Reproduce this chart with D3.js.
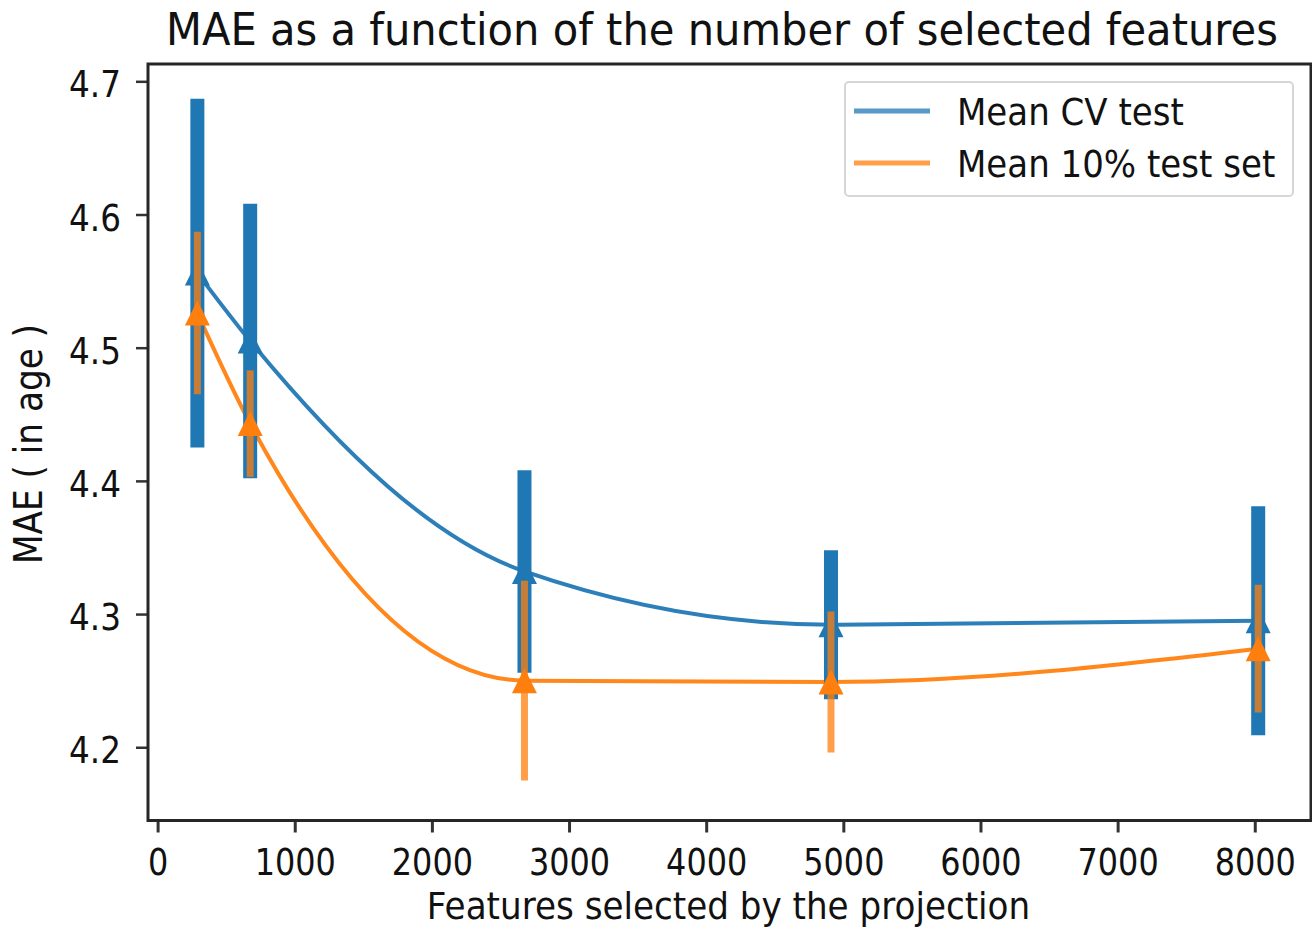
<!DOCTYPE html>
<html>
<head>
<meta charset="UTF-8">
<title>MAE vs selected features</title>
<script src="https://d3js.org/d3.v7.min.js"></script>
<style>
  body { margin: 0; background: #fff; }
  text { font-family: "DejaVu Sans", sans-serif; fill: #111; }
</style>
</head>
<body>
<div id="chart"></div>
<script>
// data
const features = [290, 675, 2675, 4910, 8025]
const cvMean = [4.556, 4.505, 4.332, 4.292, 4.295]
const cvStd = [0.131, 0.103, 0.076, 0.056, 0.086]
const testMean = [4.526, 4.443, 4.250, 4.249, 4.274]
const testStd = [0.061, 0.040, 0.075, 0.053, 0.048]
const xTicks = [0, 1000, 2000, 3000, 4000, 5000, 6000, 7000, 8000]
const yTicks = [4.2, 4.3, 4.4, 4.5, 4.6, 4.7]
const seriesNames = ["Mean CV test", "Mean 10% test set"]
const colors = ["#1f77b4", "#ff7f0e"]

const width = 1312
const height = 929
const frame = {left: 148, right: 1311, top: 64, bottom: 820.5}

const svg = d3.select("#chart").append("svg").attr("width", width).attr("height", height)

// scales, domain = axes limits
const xScale = d3.scaleLinear().domain([-70, 8410]).range([frame.left, frame.right])
const yScale = d3.scaleLinear().domain([4.145, 4.713]).range([frame.bottom, frame.top])

const series = [
  {name: seriesNames[0], mean: cvMean, std: cvStd, color: colors[0], barWidth: 14, barOpacity: 1},
  {name: seriesNames[1], mean: testMean, std: testStd, color: colors[1], barWidth: 7, barOpacity: 0.75}
]

// smooth curves first (they sit under the error bars)
const line = d3.line().curve(d3.curveMonotoneX).x(d => xScale(d[0])).y(d => yScale(d[1]))
series.forEach(s => {
  svg.append("path")
    .attr("d", line(features.map((f, i) => [f, s.mean[i]])))
    .attr("fill", "none").attr("stroke", s.color).attr("stroke-width", 4).attr("stroke-opacity", 0.94)
})

// triangle marker like matplotlib '^'
const triangleUp = {
  draw(context, size) {
    const r = Math.sqrt(size) / 2
    context.moveTo(0, -r)
    context.lineTo(r, r)
    context.lineTo(-r, r)
    context.closePath()
  }
}

// error bars + markers
series.forEach(s => {
  const g = svg.append("g")
  g.selectAll("line").data(features).join("line")
    .attr("x1", d => xScale(d)).attr("x2", d => xScale(d))
    .attr("y1", (d, i) => yScale(s.mean[i] - s.std[i]))
    .attr("y2", (d, i) => yScale(s.mean[i] + s.std[i]))
    .attr("stroke", s.color).attr("stroke-width", s.barWidth).attr("stroke-opacity", s.barOpacity)
  g.selectAll("path").data(features).join("path")
    .attr("d", d3.symbol().type(triangleUp).size(625))
    .attr("transform", (d, i) => `translate(${xScale(d)},${yScale(s.mean[i])})`)
    .attr("fill", s.color)
})

// axes
const gx = svg.append("g").attr("transform", `translate(0,${frame.bottom})`)
  .call(d3.axisBottom(xScale).tickValues(xTicks).tickSize(12).tickPadding(15.5).tickFormat(d3.format("d")))
gx.select(".domain").remove()
gx.selectAll("line").attr("stroke", "#333").attr("stroke-width", 3)
gx.selectAll("text").attr("font-size", 38)
  .style("transform-box", "fill-box").style("transform-origin", "50% 50%").style("transform", "scaleX(0.84)")

const gy = svg.append("g").attr("transform", `translate(${frame.left},0)`)
  .call(d3.axisLeft(yScale).tickValues(yTicks).tickSize(12).tickPadding(15).tickFormat(d3.format(".1f")))
gy.select(".domain").remove()
gy.selectAll("line").attr("stroke", "#333").attr("stroke-width", 2.5)
gy.selectAll("text").attr("font-size", 38).attr("dy", "0.41em")
  .style("transform-box", "fill-box").style("transform-origin", "100% 50%").style("transform", "scaleX(0.86)")

// frame
svg.append("rect")
  .attr("x", frame.left).attr("y", frame.top)
  .attr("width", frame.right - frame.left).attr("height", frame.bottom - frame.top)
  .attr("fill", "none").attr("stroke", "#262626").attr("stroke-width", 3)

// title and axis labels
svg.append("text").attr("text-anchor", "middle").attr("font-size", 44)
  .attr("transform", "translate(722,45) scale(0.947,1)")
  .text("MAE as a function of the number of selected features")
svg.append("text").attr("text-anchor", "middle").attr("font-size", 38)
  .attr("transform", "translate(728.5,919) scale(0.9,1)")
  .text("Features selected by the projection")
svg.append("text").attr("text-anchor", "middle").attr("font-size", 38.5)
  .attr("transform", "translate(42,444) rotate(-90) scale(0.89,1)")
  .text("MAE ( in age )")

// legend
const legend = svg.append("g")
legend.append("rect").attr("x", 845).attr("y", 82).attr("width", 448).attr("height", 114).attr("rx", 4)
  .attr("fill", "#fff").attr("fill-opacity", 0.8).attr("stroke", "#d6d6d6").attr("stroke-width", 2)
series.forEach((s, i) => {
  const row = legend.append("g").attr("transform", `translate(0,${i * 52})`)
  row.append("line").attr("x1", 854).attr("x2", 930).attr("y1", 111).attr("y2", 111)
    .attr("stroke", s.color).attr("stroke-width", 5).attr("stroke-opacity", 0.75)
  row.append("text").attr("font-size", 37)
    .attr("transform", "translate(957,125) scale(0.92,1)")
    .text(s.name)
})
</script>
</body>
</html>
